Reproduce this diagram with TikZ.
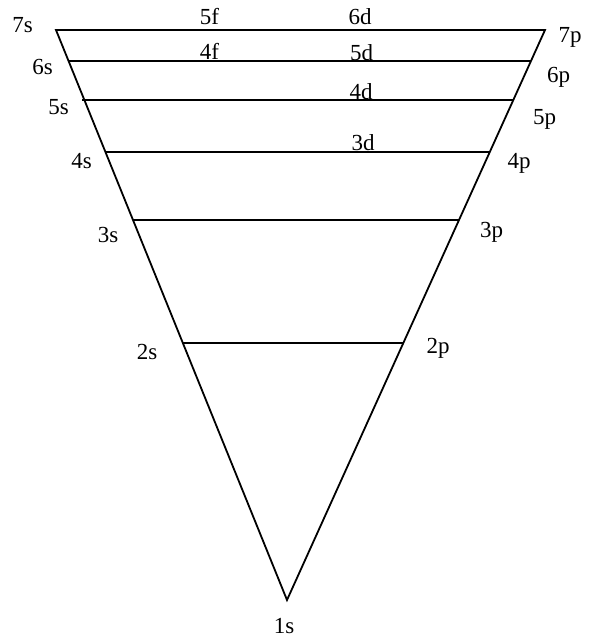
\documentclass[tikz,border=0pt]{standalone}
\usepackage{fontspec}
\setmainfont{Liberation Serif}
\begin{document}
\begin{tikzpicture}[x=1pt,y=-1pt,
  lvl/.style={line width=1.8pt},
  lbl/.style={inner sep=0pt,anchor=base,font=\fontsize{23}{23}\selectfont}]
\useasboundingbox (0,0) rectangle (591,639);
\coordinate (L7) at (56,30);
\coordinate (R7) at (545,30);
\coordinate (A) at (287,600);
\coordinate (L6) at (68.6,61);  \coordinate (R6) at (531,61);
\coordinate (L5) at (82,100);   \coordinate (R5) at (513.3,100);
\coordinate (L4) at (105.4,152);\coordinate (R4) at (489.8,152);
\coordinate (L3) at (133,220);  \coordinate (R3) at (459,220);
\coordinate (L2) at (182,343);  \coordinate (R2) at (404,343);
\draw[lvl,line join=miter] (L7) -- (R7) -- (A) -- cycle;
\draw[lvl] (L6) -- (R6);
\draw[lvl] (L5) -- (R5);
\draw[lvl] (L4) -- (R4);
\draw[lvl] (L3) -- (R3);
\draw[lvl] (L2) -- (R2);
\node[lbl] (s7) at (22.5,33) {7s};
\node[lbl] (s6) at (42.5,75) {6s};
\node[lbl] (s5) at (58.5,115) {5s};
\node[lbl] (s4) at (81.5,168) {4s};
\node[lbl] (s3) at (108,242) {3s};
\node[lbl] (s2) at (147,359) {2s};
\node[lbl] (s1) at (284,633) {1s};
\node[lbl] (p7) at (570,43) {7p};
\node[lbl] (p6) at (558.5,83) {6p};
\node[lbl] (p5) at (544.5,125) {5p};
\node[lbl] (p4) at (519,168) {4p};
\node[lbl] (p3) at (491.5,237) {3p};
\node[lbl] (p2) at (438,353) {2p};
\node[lbl] (f5) at (209.5,25) {5f};
\node[lbl] (f4) at (209.5,60) {4f};
\node[lbl] (d6) at (360,25) {6d};
\node[lbl] (d5) at (361.5,61) {5d};
\node[lbl] (d4) at (361,100) {4d};
\node[lbl] (d3) at (363,150) {3d};
\end{tikzpicture}
\end{document}
